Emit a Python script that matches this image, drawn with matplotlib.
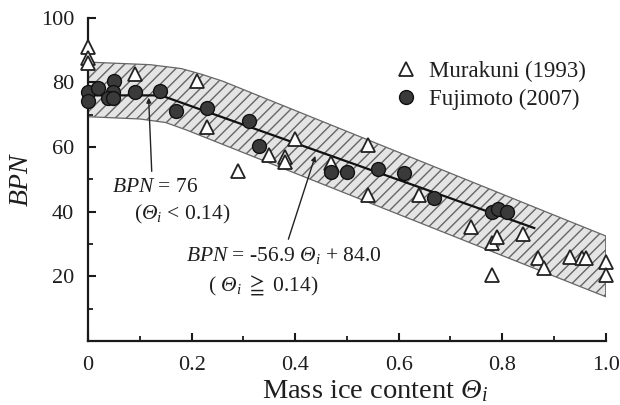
import matplotlib
matplotlib.use('Agg')
import matplotlib.pyplot as plt
import numpy as np

plt.rcParams['font.family'] = ['Liberation Serif', 'DejaVu Serif']
plt.rcParams['mathtext.fontset'] = 'custom'
plt.rcParams['mathtext.rm'] = 'Liberation Serif:italic'
plt.rcParams['mathtext.it'] = 'Liberation Serif:italic'
plt.rcParams['mathtext.fallback'] = 'stix'
plt.rcParams['hatch.color'] = '#444444'
plt.rcParams['hatch.linewidth'] = 1.0

# Murakuni (1993) - open triangles
mura_x = [0.0, 0.0, 0.0, 0.09, 0.21, 0.23, 0.29, 0.35, 0.38, 0.38, 0.40,
          0.47, 0.54, 0.54, 0.64, 0.74, 0.78, 0.78, 0.79, 0.84, 0.87,
          0.88, 0.93, 0.955, 0.962, 1.0, 1.0]
mura_y = [90.9, 87.5, 86.0, 82.7, 80.6, 66.3, 52.5, 57.4, 57.0, 55.4, 62.4,
          55.0, 60.5, 45.2, 45.2, 35.2, 30.2, 20.4, 32.3, 33.1, 25.6,
          22.5, 26.1, 25.6, 25.6, 24.6, 20.4]

# Fujimoto (2007) - filled circles
fuji_x = [0.0, 0.0, 0.02, 0.051, 0.049, 0.039, 0.049, 0.091, 0.139, 0.17,
          0.23, 0.311, 0.33, 0.47, 0.50, 0.56, 0.61, 0.669, 0.78, 0.791, 0.81]
fuji_y = [77.2, 74.3, 78.2, 80.3, 77.2, 75.1, 75.1, 77.2, 77.4, 71.2,
          72.2, 68.2, 60.2, 52.2, 52.2, 53.2, 52.1, 44.1, 40.0, 40.9, 40.0]

# scatter band (hatched)
band_up_x = [0.0, 0.12, 0.18, 0.22, 0.26, 1.0]
band_up_y = [86.3, 85.5, 84.3, 82.5, 80.4, 32.5]
band_lo_x = [0.0, 0.10, 0.15, 0.19, 1.0]
band_lo_y = [69.4, 68.7, 67.6, 65.3, 13.7]

# fitted relation
theta_break = 0.14
fit_end = 0.862

x_ticks = [0, 0.2, 0.4, 0.6, 0.8, 1.0]
x_labels = ['0', '0.2', '0.4', '0.6', '0.8', '1.0']
y_ticks = [20, 40, 60, 80, 100]

txt = '#1e1e1e'
fs_ann = 15.5

fig = plt.figure(figsize=(6.2, 4.05), dpi=100)
ax = fig.add_axes([0.142, 0.158, 0.835, 0.798])

# band
bx = np.linspace(0, 1, 201)
up = np.interp(bx, band_up_x, band_up_y)
lo = np.interp(bx, band_lo_x, band_lo_y)
ax.fill_between(bx, lo, up, facecolor='#e4e4e4', edgecolor='#666666',
                hatch='///', linewidth=0.9, zorder=1)

# fit line
fx = np.linspace(0, fit_end, 200)
fy = np.where(fx < theta_break, 76.0, -56.9 * fx + 84.0)
ax.plot(fx, fy, color='#111111', lw=1.6, zorder=2)

ax.plot(mura_x, mura_y, linestyle='none', marker='^', ms=10,
        mfc='white', mec='#222222', mew=1.3, zorder=3, clip_on=False,
        label='Murakuni (1993)')
ax.plot(fuji_x, fuji_y, linestyle='none', marker='o', ms=10,
        mfc='#3a3a3a', mec='#111111', mew=1.0, zorder=4, clip_on=False,
        label='Fujimoto (2007)')

# annotations
arw = dict(arrowstyle='-|>', lw=1.0, color='#222222', mutation_scale=7,
           shrinkA=0, shrinkB=0)
ax.annotate('', xy=(0.117, 75.3), xytext=(0.123, 52.5), arrowprops=arw)
ax.annotate('', xy=(0.439, 57.3), xytext=(0.387, 31.5), arrowprops=arw)

ax.text(0.046, 47.4, r'$BPN$ = 76', fontsize=fs_ann, color=txt,
        ha='left', va='center')
ax.text(0.088, 39.0, r'($\Theta_i$ < 0.14)', fontsize=fs_ann, color=txt,
        ha='left', va='center')
ax.text(0.19, 26.6, r'$BPN$ = -56.9 $\Theta_i$ + 84.0', fontsize=fs_ann,
        color=txt, ha='left', va='center')
ax.text(0.232, 17.0, r'( $\Theta_i$ $\geqq$ 0.14)', fontsize=fs_ann,
        color=txt, ha='left', va='center')

ax.legend(loc='upper left', bbox_to_anchor=(0.576, 0.895), frameon=False,
          fontsize=16.5, handlelength=0.9, handletextpad=0.55,
          labelspacing=0.3, borderaxespad=0, labelcolor=txt)

ax.set_xlim(0, 1.0)
ax.set_ylim(0, 100)
ax.set_xticks(x_ticks)
ax.set_xticklabels(x_labels)
ax.set_xticks(np.arange(0.1, 1.0, 0.2), minor=True)
ax.set_yticks(y_ticks)
ax.set_yticks([10, 30, 50, 70, 90], minor=True)

for s in ['top', 'right']:
    ax.spines[s].set_visible(False)
for s in ['left', 'bottom']:
    ax.spines[s].set_linewidth(1.6)
    ax.spines[s].set_color('#1a1a1a')

ax.tick_params(which='major', direction='in', length=6, width=1.5,
               labelsize=16, colors='#1a1a1a', labelcolor=txt)
ax.tick_params(which='minor', direction='in', length=3.5, width=1.3,
               colors='#1a1a1a')
ax.tick_params(axis='y', pad=10)
ax.tick_params(axis='x', pad=11)

ax.set_xlabel(r'Mass ice content $\Theta_i$', fontsize=20.5, color=txt,
              va='center')
ax.xaxis.set_label_coords(0.554, -0.155)
ax.set_ylabel(r'$BPN$', fontsize=20, color=txt, va='center')
ax.yaxis.set_label_coords(-0.128, 0.5)

fig.savefig('out.png', dpi=100)
